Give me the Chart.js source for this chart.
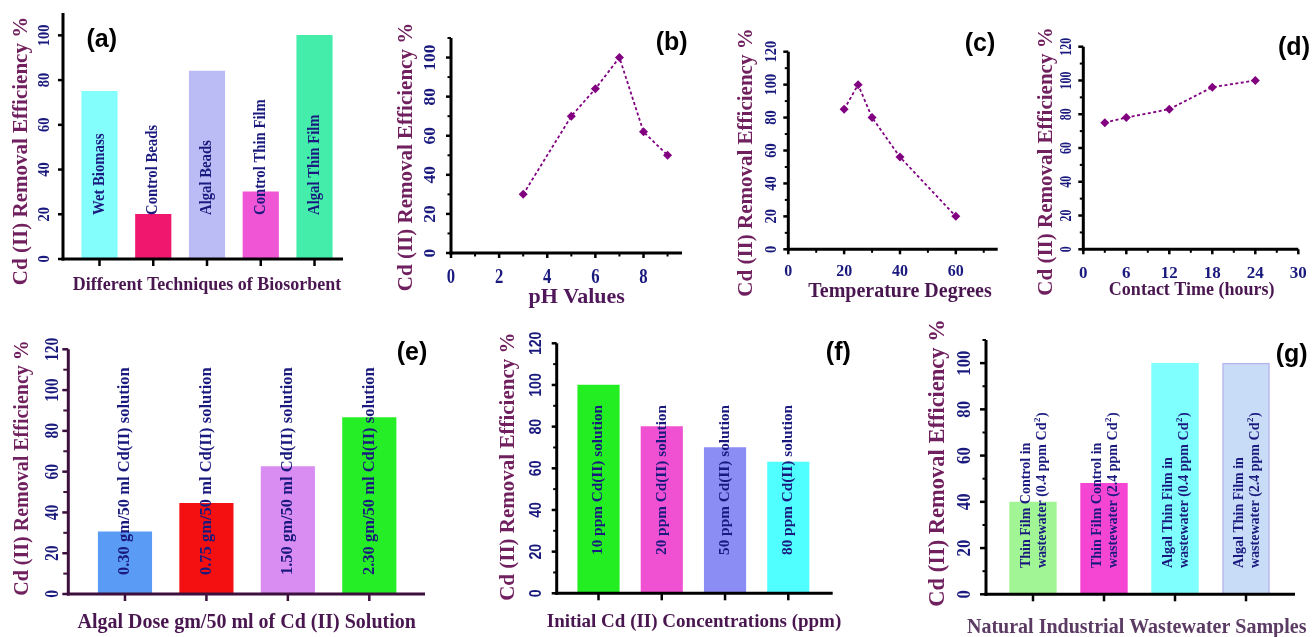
<!DOCTYPE html>
<html>
<head>
<meta charset="utf-8">
<title>Cd (II) removal efficiency</title>
<script src="https://cdn.jsdelivr.net/npm/chart.js@4.4.1/dist/chart.umd.min.js"></script>
<style>
  html, body { margin: 0; padding: 0; background: #fff; }
  #sheet { position: relative; width: 1314px; height: 637px; overflow: hidden; }
  #sheet canvas { position: absolute; left: 0; top: 0; }
</style>
</head>
<body>
<div id="sheet"></div>
<script>
// (a) biosorbent techniques
const techniqueNames = ['Wet Biomass', 'Control Beads', 'Algal Beads', 'Control Thin Film', 'Algal Thin Film'];
const techniqueEfficiency = [75, 20, 84, 30, 100];

// (b) pH
const phValues = [3, 5, 6, 7, 8, 9];
const phEfficiency = [30, 70, 84, 100, 62, 50];

// (c) temperature
const temperatures = [20, 25, 30, 40, 60];
const temperatureEfficiency = [85, 100, 80, 56, 20];

// (d) contact time
const contactHours = [3, 6, 12, 18, 24];
const contactEfficiency = [75, 78, 83, 96, 100];

// (e) algal dose
const algalDoses = ['0.30', '0.75', '1.50', '2.30'];
const doseEfficiency = [30.5, 44.5, 62.5, 86.5];

// (f) initial concentration
const initialConcentrations = ['10', '20', '50', '80'];
const concentrationEfficiency = [100, 80, 70, 63];

// (g) real wastewater
const wastewaterSamples = ['Thin Film Control in', 'Thin Film Control in', 'Algal Thin Film in', 'Algal Thin Film in'];
const wastewaterCd = ['0.4', '2.4', '0.4', '2.4'];
const wastewaterEfficiency = [40, 48, 100, 100];

// tick labels
const ticksTo100 = [0, 20, 40, 60, 80, 100];
const ticksTo120 = [0, 20, 40, 60, 80, 100, 120];
const phTicks = [0, 2, 4, 6, 8];
const temperatureTicks = [0, 20, 40, 60];
const hourTicks = [0, 6, 12, 18, 24, 30];

const W = 1314, H = 637;
const SERIF = '"Liberation Serif", "Times New Roman", serif';
const SANS = '"Liberation Sans", Arial, sans-serif';
const NAVY = '#1a1a7e';
const PLUM = '#70205e';
const GRAPE = '#4a1650';
const MARK = '#800080';
const Y_TITLE = 'Cd (II) Removal Efficiency %';

function steps(step, max) {
  const out = [];
  for (let v = step; v <= max + 1e-9; v += step) out.push(+v.toFixed(6));
  return out;
}

// bold text, optionally turned to read bottom-to-top; sx squeezes the run direction
function drawText(ctx, text, x, y, o) {
  ctx.save();
  ctx.translate(x, y);
  if (o.rotate) ctx.rotate(-Math.PI / 2);
  ctx.scale(o.sx || 1, 1);
  ctx.font = `bold ${o.size}px ${o.family || SERIF}`;
  ctx.fillStyle = o.color || NAVY;
  ctx.textAlign = o.align || 'center';
  ctx.textBaseline = o.baseline || 'middle';
  ctx.fillText(text, 0, 0);
  ctx.restore();
}

// "wastewater (0.4 ppm Cd²)" style line with a raised 2
function drawSuperLine(ctx, parts, x, y, size) {
  ctx.save();
  ctx.translate(x, y);
  ctx.rotate(-Math.PI / 2);
  ctx.fillStyle = NAVY;
  ctx.textAlign = 'left';
  ctx.textBaseline = 'middle';
  ctx.font = `bold ${size}px ${SERIF}`;
  ctx.fillText(parts[0], 0, 0);
  let at = ctx.measureText(parts[0]).width + 0.5;
  ctx.font = `bold ${Math.round(size * 0.62)}px ${SERIF}`;
  ctx.fillText(parts[1], at, -size * 0.36);
  at += ctx.measureText(parts[1]).width + 0.5;
  ctx.font = `bold ${size}px ${SERIF}`;
  ctx.fillText(parts[2], at, 0);
  ctx.restore();
}

function decor(p) {
  return {
    id: 'decor',
    afterDraw(chart) {
      const ctx = chart.ctx, xs = chart.scales.x, ys = chart.scales.y, f = p.frame;
      const stroke = (x1, y1, x2, y2, w) => {
        ctx.lineWidth = w;
        ctx.beginPath(); ctx.moveTo(x1, y1); ctx.lineTo(x2, y2); ctx.stroke();
      };
      ctx.save();
      ctx.strokeStyle = p.axisColor || '#000';

      p.yTicks.forEach(v => {
        const py = ys.getPixelForValue(v);
        stroke(f.left, py, f.left - (p.yTickLen || 5), py, 2.5);
        drawText(ctx, String(v), p.yLabel.x, py, {
          size: p.yLabel.size, sx: p.yLabel.sx, rotate: true, family: p.yLabel.family
        });
      });
      if (p.yMinor) {
        steps(p.yMinor, p.yMax).filter(v => !p.yTicks.includes(v)).forEach(v => {
          const py = ys.getPixelForValue(v);
          stroke(f.left, py, f.left - (p.yMinorLen || 3.5), py, 2);
        });
      }

      if (p.type === 'bar') {
        chart.getDatasetMeta(0).data.forEach((bar, i) => {
          stroke(bar.x, f.bottom, bar.x, f.bottom + 7, 2.5);
          p.barText(ctx, bar.x, i);
        });
      } else {
        p.xTicks.forEach(v => {
          const px = xs.getPixelForValue(v);
          stroke(px, f.bottom, px, f.bottom + 5, 2.5);
          drawText(ctx, String(v), px, p.xLabel.y, { size: p.xLabel.size, sx: p.xLabel.sx });
        });
        steps(p.xMinor, p.xMax).filter(v => !p.xTicks.includes(v)).forEach(v => {
          const px = xs.getPixelForValue(v);
          stroke(px, f.bottom, px, f.bottom + 3.5, 2);
        });
      }

      stroke(f.left, f.top, f.left, f.bottom + 1.5, 3);
      stroke(f.left - 1.5, f.bottom, f.right, f.bottom, 3);

      drawText(ctx, Y_TITLE, p.yTitle.x, p.yTitle.y, { size: p.yTitle.size, rotate: true, color: PLUM });
      drawText(ctx, p.xTitle.text, p.xTitle.x, p.xTitle.y, { size: p.xTitle.size, color: p.xTitle.color || GRAPE });
      drawText(ctx, p.letter.text, p.letter.x, p.letter.y, { size: 25, family: SANS, color: '#000' });
      ctx.restore();
    }
  };
}

const sheet = document.getElementById('sheet');

function makePanel(p) {
  const canvas = document.createElement('canvas');
  canvas.width = W;
  canvas.height = H;
  sheet.appendChild(canvas);
  const f = p.frame;
  const isBar = p.type === 'bar';
  const dataset = isBar ? {
    data: p.values.map((v, i) => ({ x: i + 1, y: v })),
    backgroundColor: p.colors,
    borderColor: p.borderColors || p.colors,
    borderWidth: p.borderWidth || 0,
    barThickness: p.barThickness
  } : {
    data: p.xs.map((x, i) => ({ x, y: p.values[i] })),
    borderColor: MARK,
    borderWidth: 1.8,
    borderDash: [3, 2.5],
    pointStyle: 'rectRot',
    pointRadius: 4.5,
    pointBackgroundColor: MARK,
    pointBorderWidth: 0,
    tension: 0,
    fill: false
  };
  new Chart(canvas, {
    type: isBar ? 'bar' : 'line',
    data: { datasets: [dataset] },
    options: {
      responsive: false,
      animation: false,
      events: [],
      devicePixelRatio: 1,
      layout: { padding: { left: f.left, top: f.top, right: W - f.right, bottom: H - f.bottom } },
      plugins: { legend: { display: false }, tooltip: { enabled: false } },
      scales: {
        x: { type: 'linear', display: false, offset: false, min: p.xMin, max: p.xMax },
        y: { type: 'linear', display: false, min: 0, max: p.yMax }
      }
    },
    plugins: [decor(p)]
  });
}

// (a)
makePanel({
  type: 'bar',
  values: techniqueEfficiency,
  colors: ['#84fdfd', '#f0186e', '#bbbbf5', '#f055d5', '#44eeaa'],
  barThickness: 35.5,
  frame: { left: 63, top: 13, right: 343, bottom: 259 },
  xMin: 0.321, xMax: 5.53, yMax: 110,
  yTicks: ticksTo100,
  yLabel: { x: 45, size: 16, sx: 0.9 },
  yTitle: { x: 22, y: 151, size: 21 },
  xTitle: { text: 'Different Techniques of Biosorbent', x: 207, y: 285, size: 18 },
  letter: { text: '(a)', x: 101.7, y: 40 },
  barText: (ctx, x, i) => drawText(ctx, techniqueNames[i], x, 215,
    { size: 16, sx: 0.92, rotate: true, align: 'left' })
});

// (b)
makePanel({
  type: 'line',
  xs: phValues, values: phEfficiency,
  frame: { left: 451, top: 38, right: 682, bottom: 253 },
  xMin: 0, xMax: 9.6, yMax: 110,
  yTicks: ticksTo100, yMinor: 10,
  xTicks: phTicks, xMinor: 1,
  yLabel: { x: 430, size: 17.5, sx: 1 },
  xLabel: { y: 277, size: 22, sx: 0.76 },
  yTitle: { x: 406.7, y: 157, size: 21 },
  xTitle: { text: 'pH Values', x: 576.7, y: 297, size: 22, color: '#50185a' },
  letter: { text: '(b)', x: 671.7, y: 43.5 }
});

// (c)
makePanel({
  type: 'line',
  xs: temperatures, values: temperatureEfficiency,
  frame: { left: 788.3, top: 51.7, right: 997.7, bottom: 249.3 },
  xMin: 0, xMax: 75, yMax: 120,
  yTicks: ticksTo120, yMinor: 10,
  xTicks: temperatureTicks, xMinor: 10,
  yLabel: { x: 771.7, size: 17, sx: 0.85 },
  xLabel: { y: 271.7, size: 17, sx: 0.94 },
  yTitle: { x: 746.7, y: 162.5, size: 21 },
  xTitle: { text: 'Temperature Degrees', x: 900, y: 291.7, size: 20 },
  letter: { text: '(c)', x: 980, y: 44 }
});

// (d)
makePanel({
  type: 'line',
  xs: contactHours, values: contactEfficiency,
  frame: { left: 1083.3, top: 46.7, right: 1298.3, bottom: 249.3 },
  xMin: 0, xMax: 30, yMax: 120,
  yTicks: ticksTo120, yMinor: 10,
  xTicks: hourTicks, xMinor: 3,
  yLabel: { x: 1066.7, size: 17, sx: 0.7 },
  xLabel: { y: 273.3, size: 17, sx: 1 },
  yTitle: { x: 1046.7, y: 161.5, size: 21 },
  xTitle: { text: 'Contact Time (hours)', x: 1191.7, y: 290, size: 18 },
  letter: { text: '(d)', x: 1294, y: 48 }
});

// (e)
makePanel({
  type: 'bar',
  values: doseEfficiency,
  colors: ['#5a9cf5', '#f41010', '#d98cf2', '#26ee26'],
  barThickness: 53.5,
  axisColor: '#3d0f3d',
  frame: { left: 68.3, top: 349.3, right: 425, bottom: 594 },
  xMin: 0.304, xMax: 4.684, yMax: 120,
  yTicks: ticksTo120, yMinor: 10, yTickLen: 6, yMinorLen: 5,
  yLabel: { x: 53.3, size: 18, sx: 0.86 },
  yTitle: { x: 23.3, y: 468, size: 20 },
  xTitle: { text: 'Algal Dose gm/50 ml of Cd (II) Solution', x: 246.7, y: 623.3, size: 20 },
  letter: { text: '(e)', x: 412, y: 353 },
  barText: (ctx, x, i) => drawText(ctx, `${algalDoses[i]} gm/50 ml Cd(II) solution`, x, 575,
    { size: 16.5, rotate: true, align: 'left' })
});

// (f)
makePanel({
  type: 'bar',
  values: concentrationEfficiency,
  colors: ['#22ee22', '#f050d2', '#8c8cf5', '#50ffff'],
  barThickness: 41.5,
  frame: { left: 556.7, top: 343.3, right: 832.7, bottom: 593.3 },
  xMin: 0.339, xMax: 4.702, yMax: 120,
  yTicks: ticksTo120, yMinor: 10,
  yLabel: { x: 536.7, size: 17, sx: 0.83, family: SANS },
  yTitle: { x: 508.3, y: 466.7, size: 21 },
  xTitle: { text: 'Initial Cd (II) Concentrations (ppm)', x: 694, y: 621.7, size: 19 },
  letter: { text: '(f)', x: 838.3, y: 353.3 },
  barText: (ctx, x, i) => drawText(ctx, `${initialConcentrations[i]} ppm Cd(II) solution`, x, 555,
    { size: 15.3, rotate: true, align: 'left' })
});

// (g)
makePanel({
  type: 'bar',
  values: wastewaterEfficiency,
  colors: ['#a2f594', '#f545d3', '#80ffff', '#c9dcf7'],
  borderColors: ['#a2f594', '#f545d3', '#80ffff', '#b5b5ee'],
  borderWidth: 1.5,
  barThickness: 47,
  frame: { left: 986, top: 340, right: 1295, bottom: 594.3 },
  xMin: 0.338, xMax: 4.69, yMax: 110,
  yTicks: ticksTo100, yMinor: 10, yTickLen: 6,
  yLabel: { x: 965, size: 18, sx: 0.93 },
  yTitle: { x: 938.3, y: 463, size: 22.5 },
  xTitle: { text: 'Natural Industrial Wastewater Samples', x: 1136.7, y: 628.3, size: 20, color: '#5b3a63' },
  letter: { text: '(g)', x: 1291.7, y: 355 },
  barText: (ctx, x, i) => {
    drawText(ctx, wastewaterSamples[i], x - 7, 568, { size: 14, rotate: true, align: 'left' });
    drawSuperLine(ctx, [`wastewater (${wastewaterCd[i]} ppm Cd`, '2', ')'], x + 9.5, 568, 14);
  }
});
</script>
</body>
</html>
